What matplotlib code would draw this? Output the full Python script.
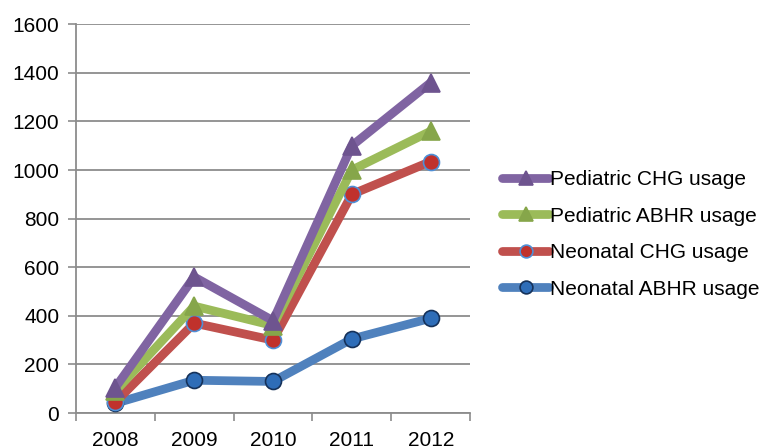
import numpy as np
import matplotlib.pyplot as plt

plt.rcParams['font.family'] = ['Liberation Sans', 'DejaVu Sans']

# data
years = ['2008', '2009', '2010', '2011', '2012']
ped_chg = [105, 560, 380, 1100, 1360]
ped_abhr = [90, 440, 360, 1000, 1160]
neo_chg = [45, 370, 300, 900, 1035]
neo_abhr = [40, 135, 130, 305, 390]

series = [
    ('Pediatric CHG usage', ped_chg, '#8064A2', '^', '#6E548F', '#6E548F'),
    ('Pediatric ABHR usage', ped_abhr, '#9BBB59', '^', '#86A64A', '#86A64A'),
    ('Neonatal CHG usage', neo_chg, '#C0504D', 'o', '#C0312C', '#4F8FD6'),
    ('Neonatal ABHR usage', neo_abhr, '#4F81BD', 'o', '#2E6DB8', '#16325A'),
]

fig = plt.figure(figsize=(7.67, 4.48), dpi=100, facecolor='white')
ax = fig.add_axes([0.099, 0.078, 0.514, 0.868])

x = np.arange(len(years))
n = len(series)
for i, (name, vals, col, mk, mfc, mec) in enumerate(series):
    ax.plot(x, vals, color=col, lw=6.3, marker=mk, markersize=12.5 if mk == '^' else 11.5,
            markerfacecolor=mfc, markeredgecolor=mec, markeredgewidth=1.2,
            label=name, zorder=10 + n - i, solid_capstyle='round')

ax.set_xlim(-0.5, 4.5)
ax.set_ylim(0, 1600)
ax.set_yticks(np.arange(0, 1601, 200))
ax.set_xticks(x)
ax.set_xticklabels(years)
ax.set_xticks(np.arange(-0.5, 4.6, 1), minor=True)
ax.tick_params(axis='x', which='major', length=0, pad=13, labelsize=15)
ax.tick_params(axis='x', which='minor', length=6, width=1.2, color='#8C8C8C', direction='out')
ax.tick_params(axis='y', length=6, width=1.2, color='#8C8C8C', labelsize=15, pad=6)

ax.grid(axis='y', color='#8C8C8C', lw=1.3)
ax.set_axisbelow(True)
for s in ['top', 'right']:
    ax.spines[s].set_visible(False)
for s in ['left', 'bottom']:
    ax.spines[s].set_color('#8C8C8C')
    ax.spines[s].set_linewidth(1.3)

leg = fig.legend(loc='center left', bbox_to_anchor=(0.644, 0.477), frameon=False,
                 fontsize=15, handlelength=2.25, handletextpad=0.02,
                 labelspacing=0.84, borderaxespad=0, markerscale=0.8)

fig.savefig('out.png', dpi=100)
